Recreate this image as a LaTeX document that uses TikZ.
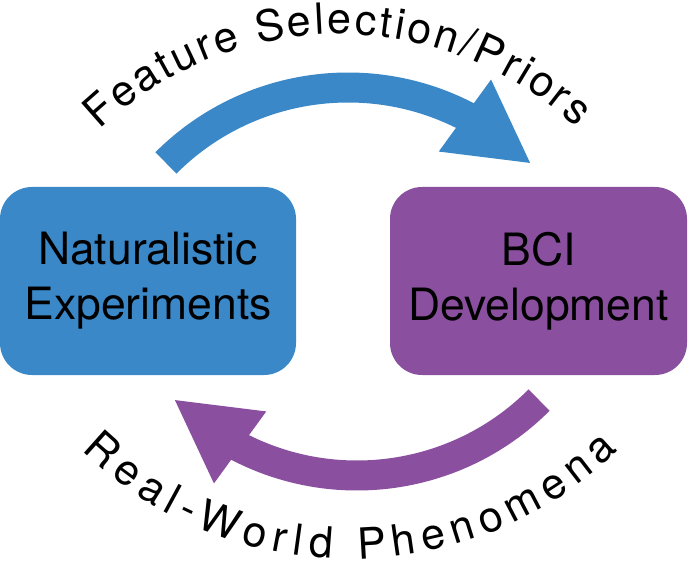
\documentclass[tikz,border=0pt]{standalone}
\usepackage{fontspec}
\setmainfont{TeX Gyre Heros}
\usetikzlibrary{calc,decorations.text}

\definecolor{natblue}{HTML}{3A88C8}
\definecolor{bcipurple}{HTML}{8A4F9F}

\tikzset{
  phase/.style={rounded corners=32pt, minimum width=296pt, minimum height=188pt,
    inner sep=0pt, align=center, font=\fontsize{44.5}{55}\selectfont},
  cyclearrow/.style={line width=30pt},
  arclabel/.style={decorate, decoration={text along path, text align={fit to path}}},
}

\begin{document}
\begin{tikzpicture}[x=1pt,y=1pt]
    \useasboundingbox (0,0) rectangle (690,563);

    % Boites
    \node[phase, fill=natblue] (natexp) at (148,282) {Naturalistic\\Experiments};
    \node[phase, fill=bcipurple, minimum width=297pt] (bcidev) at (538.5,282) {BCI\\Development};

    % Centres des arcs
    \coordinate (topc) at (348,218);
    \coordinate (botc) at (357,345);

    % Fleche du haut
    \coordinate (ftail) at ($(topc)+(135:257.5)$);
    \coordinate (fbase) at ($(topc)+(63:257.5)$);
    \coordinate (ftip) at ($(topc)+(45:257.5)$);
    \draw[cyclearrow, natblue] (ftail) arc[start angle=135, end angle=56, radius=257.5];
    \fill[natblue] ($(fbase)!44.5pt!90:(ftip)$) -- (ftip) -- ($(fbase)!44.5pt!-90:(ftip)$) -- cycle;

    % Fleche du bas
    \coordinate (rtail) at ($(botc)+(315:257.5)$);
    \coordinate (rbase) at ($(botc)+(243:257.5)$);
    \coordinate (rtip) at ($(botc)+(225:257.5)$);
    \draw[cyclearrow, bcipurple] (rtail) arc[start angle=315, end angle=236, radius=257.5];
    \fill[bcipurple] ($(rbase)!44.5pt!90:(rtip)$) -- (rtip) -- ($(rbase)!44.5pt!-90:(rtip)$) -- cycle;

    % Textes courbes
    \path[arclabel, decoration={text={|\fontsize{43}{43}\selectfont|Feature Selection/Priors}}]
        ($(339,181)+(133.5:348)$) arc[start angle=133.5, end angle=47, radius=348];
    \path[arclabel, decoration={text={|\fontsize{43}{43}\selectfont|Real-World Phenomena}}]
        ($(350,390)+(226:386)$) arc[start angle=226, end angle=314, radius=386];

\end{tikzpicture}
\end{document}
